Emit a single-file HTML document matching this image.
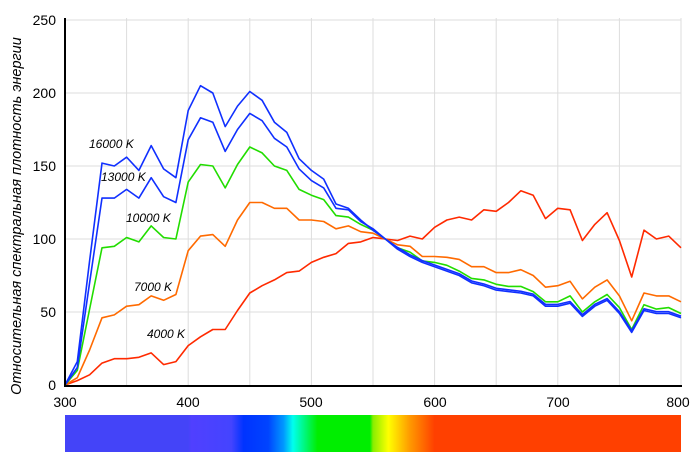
<!DOCTYPE html>
<html><head><meta charset="utf-8"><style>
body{margin:0;background:#fff;width:700px;height:462px;overflow:hidden}
svg{display:block}
text{font-family:"Liberation Sans",Arial,sans-serif}
</style></head><body>
<svg width="700" height="462" viewBox="0 0 700 462" xmlns="http://www.w3.org/2000/svg">
<defs>
<linearGradient id="sp" x1="0" x2="1" y1="0" y2="0">
<stop offset="0" stop-color="#4444f8"/>
<stop offset="0.2" stop-color="#4444f8"/>
<stop offset="0.205" stop-color="#5040ff"/>
<stop offset="0.27" stop-color="#4444ff"/>
<stop offset="0.29" stop-color="#0033ff"/>
<stop offset="0.33" stop-color="#0044ff"/>
<stop offset="0.355" stop-color="#0099ff"/>
<stop offset="0.37" stop-color="#00ffee"/>
<stop offset="0.41" stop-color="#00ee00"/>
<stop offset="0.495" stop-color="#00ee00"/>
<stop offset="0.5" stop-color="#88ee00"/>
<stop offset="0.525" stop-color="#ffff00"/>
<stop offset="0.56" stop-color="#ff9900"/>
<stop offset="0.6" stop-color="#ff4000"/>
<stop offset="1" stop-color="#ff4000"/>
</linearGradient>
</defs>
<g stroke="#ddd" stroke-width="1" id="grid"></g>
<g id="series" fill="none" stroke-width="1.6" stroke-linejoin="round"></g>
<line x1="65" y1="18" x2="65" y2="386" stroke="#000" stroke-width="2"/>
<line x1="64" y1="386" x2="682" y2="386" stroke="#000" stroke-width="2"/>
<g font-size="14" text-anchor="end" fill="#000">
<text x="56" y="390">0</text><text x="56" y="317">50</text><text x="56" y="244">100</text>
<text x="56" y="171">150</text><text x="56" y="98">200</text><text x="56" y="25">250</text>
</g>
<g font-size="14" text-anchor="middle" fill="#000">
<text x="65" y="407">300</text><text x="188" y="407">400</text><text x="311" y="407">500</text>
<text x="435" y="407">600</text><text x="558" y="407">700</text><text x="678" y="407">800</text>
</g>
<g font-size="12" font-style="italic" fill="#000">
<text x="89" y="148">16000 K</text><text x="101" y="181">13000 K</text>
<text x="126" y="222">10000 K</text><text x="134" y="291">7000 K</text><text x="147" y="338">4000 K</text>
</g>
<text transform="translate(21,216) rotate(-90)" font-size="14.5" font-style="italic" text-anchor="middle">Относительная спектральная плотность энергии</text>
<rect x="65" y="415" width="616" height="37" fill="url(#sp)"/>
</svg>
<script>
var g=document.getElementById('grid'),s=document.getElementById('series'),NS="http://www.w3.org/2000/svg";
function X(w){return 65+(w-300)*1.232}function Y(v){return 385-v*1.46}
for(var w=350;w<=800;w+=50){var l=document.createElementNS(NS,'line');l.setAttribute('x1',X(w));l.setAttribute('x2',X(w));l.setAttribute('y1',18);l.setAttribute('y2',385);g.appendChild(l);}
for(var v=50;v<=250;v+=50){var l=document.createElementNS(NS,'line');l.setAttribute('x1',65);l.setAttribute('x2',681);l.setAttribute('y1',Y(v));l.setAttribute('y2',Y(v));g.appendChild(l);}
var tail16=[100,93,88,84,81,78,75,70,68,65,64,63,61,54,54,56,47,54,58,49,36,51,49,49,46];
var d={
r:["#ff2a00",[0,3,7,15,18,18,19,22,14,16,27,33,38,38,51,63,68,72,77,78,84,87.5,90,97,98,101,100,99,102,100,108,113,115,113,120,119,125,133,130,114,121,120,99,110,118,99,74,106,100,102,94]],
o:["#ff6a00",[0,5,24,46,48,54,55,61,58,62,92,102,103,95,113,125,125,121,121,113,113,112,107,109,105,104,100,96,95,88,88,87.5,86,81,81,77,77,79,75,67,68,71,59,67,72,61,44,63,61,61,57]],
g:["#22dd00",[0,10,52,94,95,101,98,109,101,100,139,151,150,135,151,163,159,150,147,134,130,127,116,115,110,106,100,94,91,85,84,82,78,73,72,69,67.5,67.5,64,57,57,61,50,57,62,53,38,55,52,53,49]],
b13:["#1030ff",[0,12,70,128,128,134,128,142,129,125,168,183,180,160,175,186,181,169,163,148,140,135,121,120,112,107,100].concat(tail16.slice(1).map(function(v){return v+1.2}))],
b16:["#1030ff",[0,16,85,152,150,156,147,164,148,142,188,205,200,177,191,201,195,180,173,155,147,141,124,121,113,106,100].concat(tail16.slice(1))]
};
for(var k in d){var p=d[k][1],pts=[];for(var i=0;i<p.length&&i<=50;i++)pts.push(X(300+i*10).toFixed(1)+','+Y(p[i]).toFixed(1));
var pl=document.createElementNS(NS,'polyline');pl.setAttribute('points',pts.join(' '));pl.setAttribute('stroke',d[k][0]);s.appendChild(pl);}
</script>
</body></html>
